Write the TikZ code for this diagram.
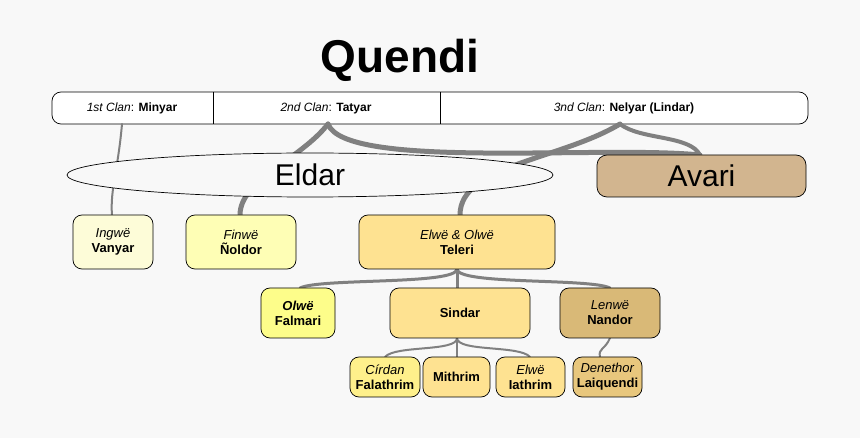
\documentclass[tikz,border=0pt]{standalone}
\usepackage{fontspec}
\setmainfont{Liberation Sans}
\usetikzlibrary{shapes.geometric}
\definecolor{bg}{HTML}{F8F8F8}
\definecolor{ln}{HTML}{808080}
\begin{document}
\begin{tikzpicture}[x=1pt,y=-1pt,
  box/.style={draw=black,rounded corners=9pt,line width=0.7pt,align=center,inner sep=0pt,font=\fontsize{13}{15}\selectfont},
  con/.style={draw=ln,line cap=round},
  t2/.style={con,line width=2pt},t3/.style={con,line width=3pt},t5/.style={con,line width=5pt}]
\fill[bg] (0,0) rectangle (860,438);
\useasboundingbox (0,0) rectangle (860,438);
\node (title) at (400,60) {\fontsize{46}{50}\selectfont\bfseries Quendi};
% nodes geometry
\node[box,minimum width=756pt,minimum height=32pt,fill=white] (clans) at (430,108) {};
\draw[line width=0.7pt] (213,92) -- (213,124) (440,92) -- (440,124);
\node (min) at (132,108) {\fontsize{12}{14}\selectfont\textit{1st Clan}: \textbf{Minyar}};
\node (tat) at (326,108) {\fontsize{12}{14}\selectfont\textit{2nd Clan}: \textbf{Tatyar}};
\node (nel) at (624,108) {\fontsize{12}{14}\selectfont\textit{3nd Clan}: \textbf{Nelyar (Lindar)}};
\coordinate (minb) at (122,124);
\coordinate (tatb) at (328,124);
\coordinate (nelb) at (620,124);
% connectors
\draw[t2] (minb) .. controls (118,170) and (110,190) .. (112,215) coordinate (vant);
\draw[t5] (tatb) .. controls (300,160) and (240,180) .. (240,215) coordinate (nolt);
\draw[t5] (tatb) .. controls (345,170) and (600,145) .. (700,155) coordinate (avt);
\draw[t5] (nelb) .. controls (560,160) and (460,165) .. (460,215) coordinate (telt);
\draw[con,line width=4pt] (nelb) .. controls (640,140) and (690,135) .. (avt);
\draw[t3] (457,269) coordinate (telb) .. controls (457,285) and (320,278) .. (300,288);
\draw[t3] (telb) -- (457,288);
\draw[t3] (telb) .. controls (457,285) and (590,278) .. (610,288);
\draw[t2] (457,338) coordinate (sinb) .. controls (457,352) and (395,345) .. (385,357);
\draw[t2] (sinb) -- (457,357);
\draw[t2] (sinb) .. controls (457,352) and (520,345) .. (530,357);
\draw[t2] (610,338) .. controls (605,350) and (598,348) .. (600,357);
\node[ellipse,draw=black,line width=0.7pt,fill=bg,minimum width=486pt,minimum height=44pt,inner sep=0pt] (eldar) at (310,175) {\fontsize{30}{34}\selectfont Eldar};
\node[box,fill=white!0!bg,fill opacity=0,draw opacity=0] at (0,0) {};
\node[box,fill={rgb,255:red,210;green,181;blue,143},minimum width=209pt,minimum height=42pt,rounded corners=10pt] (avari) at (701.5,176) {\fontsize{30}{34}\selectfont Avari};
\node[box,fill={rgb,255:red,253;green,252;blue,216},minimum width=80pt,minimum height=54pt] (vanyar) at (113,242) {\textit{Ingwë}\\\textbf{Vanyar}};
\node[box,fill={rgb,255:red,254;green,254;blue,181},minimum width=110pt,minimum height=54pt] (noldor) at (241,242) {\textit{Finwë}\\\textbf{Ñoldor}};
\node[box,fill={rgb,255:red,254;green,226;blue,145},minimum width=196pt,minimum height=54pt] (teleri) at (457,242) {\textit{Elwë \& Olwë}\\\textbf{Teleri}};
\node[box,fill={rgb,255:red,253;green,253;blue,138},minimum width=74pt,minimum height=50pt] (falmari) at (298,313) {\textbf{\textit{Olwë}}\\\textbf{Falmari}};
\node[box,fill={rgb,255:red,254;green,226;blue,145},minimum width=140pt,minimum height=50pt] (sindar) at (460,313) {\textbf{Sindar}};
\node[box,fill={rgb,255:red,217;green,185;blue,119},minimum width=100pt,minimum height=50pt] (nandor) at (610,313) {\textit{Lenwë}\\\textbf{Nandor}};
\node[box,fill={rgb,255:red,254;green,240;blue,139},minimum width=70pt,minimum height=40pt] (falathrim) at (385,377) {\textit{Círdan}\\\textbf{Falathrim}};
\node[box,fill={rgb,255:red,254;green,226;blue,145},minimum width=67pt,minimum height=40pt] (mithrim) at (456.5,377) {\textbf{Mithrim}};
\node[box,fill={rgb,255:red,254;green,226;blue,145},minimum width=69pt,minimum height=40pt] (iathrim) at (530.5,377) {\textit{Elwë}\\\textbf{Iathrim}};
\node[box,fill={rgb,255:red,232;green,199;blue,125},minimum width=69pt,minimum height=40pt] (laiq) at (607.5,377) {\textit{Denethor}\\\textbf{Laiquendi}};
\end{tikzpicture}
\end{document}
